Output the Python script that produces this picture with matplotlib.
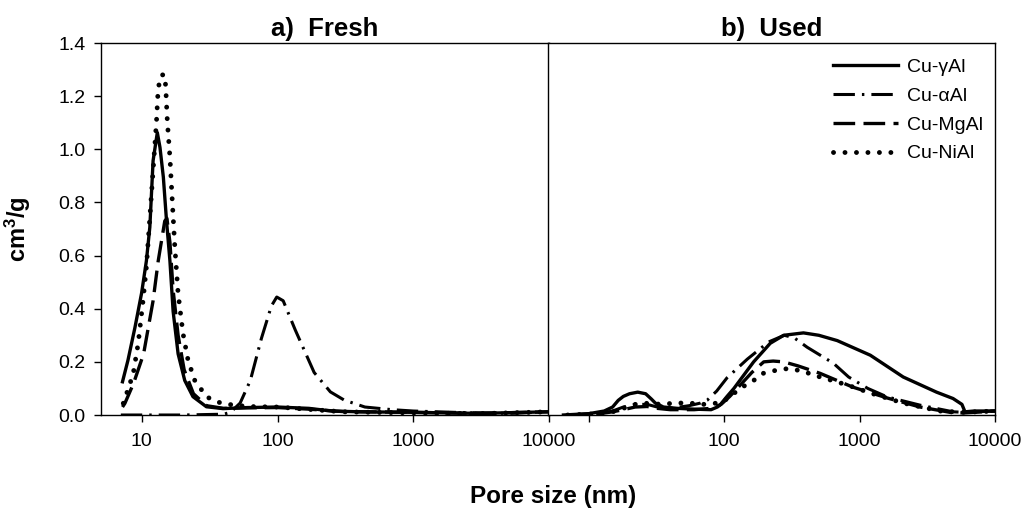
# -*- coding:utf-8 -*-
"""
Pore size distribution, fresh vs used catalysts
"""
import matplotlib
matplotlib.use('Agg')
import matplotlib.pyplot as plt

plt.rcParams['font.family'] = ['Liberation Sans', 'DejaVu Sans']
plt.rcParams['mathtext.fontset'] = 'custom'
plt.rcParams['mathtext.rm'] = 'Liberation Sans'
plt.rcParams['mathtext.bf'] = 'Liberation Sans:bold'

LABELS = ['Cu-γAl', 'Cu-αAl', 'Cu-MgAl', 'Cu-NiAl']

# a) Fresh
fresh_gal_x = [7.2, 7.9, 8.9, 9.95, 10.8, 11.45, 12.1, 13.0, 13.6, 14.4, 15.2, 16.1,
               17.0, 18.5, 20.7, 23.8, 29.9, 39.6, 60, 100, 170, 250, 400, 1000,
               3000, 10000]
fresh_gal_y = [0.125, 0.206, 0.33, 0.458, 0.58, 0.707, 0.957, 1.063, 1.007, 0.895,
               0.73, 0.58, 0.39, 0.23, 0.13, 0.069, 0.031, 0.024, 0.028, 0.03,
               0.025, 0.015, 0.012, 0.01, 0.006, 0.012]

fresh_aal_x = [7.0, 20, 40, 45, 53, 63, 76, 90, 98.6, 110, 135, 186, 245, 310, 440,
               700, 1000, 2000, 5000, 10000]
fresh_aal_y = [0.0, 0.0, 0.003, 0.01, 0.045, 0.13, 0.288, 0.41, 0.444, 0.43, 0.32,
               0.16, 0.087, 0.056, 0.03, 0.02, 0.015, 0.01, 0.006, 0.012]

fresh_mgal_x = [7.2, 7.5, 8.7, 10.3, 12.1, 13.2, 14.75, 15.3, 16.1, 17.0, 18.5,
                20.5, 24, 30, 40, 60, 100, 170, 300, 1000, 3000, 10000]
fresh_mgal_y = [0.03, 0.044, 0.12, 0.23, 0.43, 0.58, 0.73, 0.74, 0.65, 0.47, 0.30,
                0.17, 0.08, 0.035, 0.025, 0.027, 0.028, 0.022, 0.013, 0.01, 0.006,
                0.012]

fresh_nial_x = [7.3, 7.95, 8.64, 9.4, 10.2, 10.8, 11.5, 12.1, 12.8, 13.2, 14.0,
                14.75, 15.0, 15.4, 16.1, 16.8, 17.5, 18.5, 20.1, 21.9, 24.5, 29.9,
                35.4, 41.8, 60, 100, 172, 305, 1000, 3000, 10000]
fresh_nial_y = [0.044, 0.1, 0.156, 0.27, 0.43, 0.557, 0.757, 0.92, 1.10, 1.232,
                1.28, 1.28, 1.232, 1.107, 0.97, 0.795, 0.632, 0.457, 0.307, 0.206,
                0.131, 0.069, 0.05, 0.041, 0.032, 0.03, 0.021, 0.012, 0.008, 0.005,
                0.012]

# b) Used
used_gal_x = [6.5, 10, 13, 15, 16.5, 18, 20, 23, 26.3, 29, 31, 35.6, 45, 60, 80, 89,
              93, 105, 118, 165, 219, 275, 385, 500, 684, 1200, 2100, 3700, 4900,
              5700, 6000, 7000, 10000]
used_gal_y = [0.0, 0.005, 0.015, 0.03, 0.055, 0.07, 0.08, 0.086, 0.08, 0.06, 0.045,
              0.03, 0.025, 0.022, 0.02, 0.03, 0.037, 0.07, 0.10, 0.20, 0.27, 0.30,
              0.309, 0.30, 0.28, 0.225, 0.143, 0.086, 0.062, 0.04, 0.012, 0.015,
              0.015]

used_aal_x = [7, 12, 15, 18, 22, 27, 32, 40, 55, 67, 75, 88, 105, 148, 213, 278,
              330, 410, 640, 830, 1150, 1600, 2800, 4900, 6000, 10000]
used_aal_y = [0.0, 0.005, 0.015, 0.03, 0.04, 0.04, 0.03, 0.025, 0.035, 0.045, 0.056,
              0.09, 0.14, 0.21, 0.275, 0.30, 0.29, 0.255, 0.195, 0.143, 0.10, 0.068,
              0.037, 0.012, 0.01, 0.015]

used_mgal_x = [7, 12, 15, 18, 22, 27, 32, 40, 60, 80, 95, 110, 130, 160, 196, 230,
               275, 350, 510, 890, 1600, 2800, 4900, 6000, 10000]
used_mgal_y = [0.0, 0.005, 0.012, 0.02, 0.03, 0.032, 0.025, 0.02, 0.02, 0.025, 0.04,
               0.07, 0.11, 0.16, 0.2, 0.203, 0.2, 0.185, 0.157, 0.105, 0.064, 0.03,
               0.008, 0.008, 0.015]

used_nial_x = [7, 12, 15, 18, 22, 25, 30, 36, 42, 55, 70, 90, 105, 117, 136, 165,
               195, 250, 300, 380, 460, 810, 1250, 2100, 3900, 6000, 10000]
used_nial_y = [0.0, 0.005, 0.012, 0.025, 0.04, 0.045, 0.042, 0.04, 0.045, 0.045,
               0.04, 0.045, 0.06, 0.08, 0.105, 0.13, 0.157, 0.17, 0.175, 0.165,
               0.15, 0.113, 0.08, 0.045, 0.015, 0.01, 0.015]

XTICKS = [10, 100, 1000, 10000]
YTICKS = [0.0, 0.2, 0.4, 0.6, 0.8, 1.0, 1.2, 1.4]

STYLES = [
    dict(linestyle='-', lw=2.4),
    dict(linestyle=(0, (7.0, 2.3, 0.8, 2.3)), lw=2.2),
    dict(linestyle=(0, (6.5, 2.5)), lw=2.4),
    dict(linestyle=(0, (0.01, 2.35)), lw=3.5, dash_capstyle='round'),
]


def _draw(ax, series):
    lines = []
    for (x, y), st in zip(series, STYLES):
        ln, = ax.plot(x, y, color='black', **st)
        lines.append(ln)
    ax.set_xscale('log')
    ax.set_xlim(5, 10000)
    ax.set_ylim(0, 1.4)
    ax.set_xticks(XTICKS)
    ax.minorticks_off()
    ax.tick_params(axis='both', direction='out', length=5, width=1,
                   labelsize=14, colors='black')
    ax.tick_params(axis='x', pad=8)
    ax.tick_params(axis='y', pad=6)
    for s in ax.spines.values():
        s.set_linewidth(1.0)
    return lines


fig = plt.figure(figsize=(10.29, 5.19), dpi=100)
ax1 = fig.add_axes([101 / 1029, 104 / 519, 448 / 1029, 372 / 519])
ax2 = fig.add_axes([548 / 1029, 104 / 519, 447 / 1029, 372 / 519])

_draw(ax1, [(fresh_gal_x, fresh_gal_y), (fresh_aal_x, fresh_aal_y),
            (fresh_mgal_x, fresh_mgal_y), (fresh_nial_x, fresh_nial_y)])
lines = _draw(ax2, [(used_gal_x, used_gal_y), (used_aal_x, used_aal_y),
                    (used_mgal_x, used_mgal_y), (used_nial_x, used_nial_y)])

ax1.set_yticks(YTICKS)
ax1.set_yticklabels(['%.1f' % v for v in YTICKS])
ax1.set_xticklabels(['10', '100', '1000', '10000'])
ax2.set_yticks([])
ax2.set_xticklabels(['', '100', '1000', '10000'])

ax1.set_title('a)  Fresh', fontsize=18.5, fontweight='bold', pad=5)
ax2.set_title('b)  Used', fontsize=18.5, fontweight='bold', pad=5)
ax1.set_ylabel(r'$\mathbf{cm^3/g}$', fontsize=17)
ax1.yaxis.set_label_coords(-0.152, 0.5)
fig.text(553 / 1029, 1 - 497 / 519, 'Pore size (nm)', fontsize=17.5,
         fontweight='bold', ha='center', va='center')

ax2.legend(lines, LABELS, loc='upper right', bbox_to_anchor=(0.99, 0.98),
           frameon=False, fontsize=14, handlelength=3.35, handletextpad=0.45,
           labelspacing=0.58, borderaxespad=0.0)

fig.savefig('out.png', dpi=100)
